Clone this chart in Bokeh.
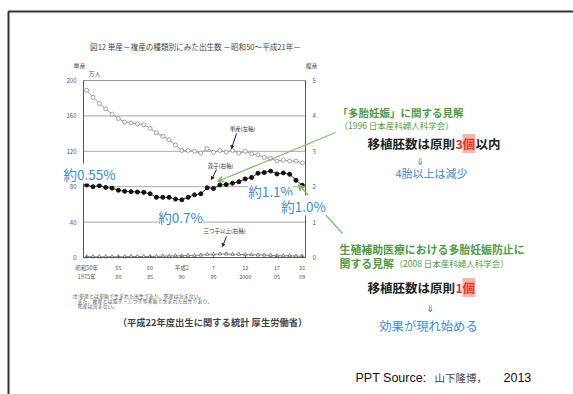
from bokeh.plotting import figure
from bokeh.models import (Range1d, LinearAxis, Label, Arrow, VeeHead, FixedTicker)
from bokeh.embed import file_html
from bokeh.resources import INLINE

# ---------------- data ----------------
years = list(range(1975, 2010))
singleton = [189, 181, 174, 168, 162, 157, 153, 152, 151, 150, 146, 141, 137, 133, 127,
             121, 121, 120, 118, 123, 119, 121, 119, 121, 118, 120, 117, 116, 113, 112,
             109, 110, 109, 109, 107]
twins = [2.05, 2.00, 2.03, 1.98, 1.96, 1.90, 1.87, 1.86, 1.85, 1.84, 1.80, 1.70, 1.70,
         1.70, 1.65, 1.63, 1.70, 1.77, 1.80, 1.97, 1.95, 2.05, 2.06, 2.10, 2.14, 2.22,
         2.26, 2.38, 2.40, 2.44, 2.36, 2.39, 2.35, 2.18, 2.04]
triplets = [0.02, 0.02, 0.02, 0.02, 0.02, 0.02, 0.02, 0.03, 0.03, 0.03, 0.03, 0.03,
            0.04, 0.04, 0.05, 0.05, 0.06, 0.06, 0.07, 0.09, 0.09, 0.10, 0.10, 0.09,
            0.09, 0.08, 0.08, 0.07, 0.07, 0.06, 0.05, 0.05, 0.05, 0.04, 0.04]
left_ticks = [0, 40, 80, 120, 160, 200]
right_ticks = [0, 1, 2, 3, 4, 5]
grid_ticks = [40, 80, 120, 160]
x_ticks = [1975, 1980, 1985, 1990, 1995, 2000, 2005, 2009]
x_tick_era = ["昭和50年", "55", "60", "平成2", "7", "12", "17", "21"]
x_tick_year = ["1975年", "80", "85", "90", "95", "2000", "05", "09"]

# ---------------- layout ----------------
W, H = 573, 394
FL, FT, FW, FH = 83, 80, 222, 177          # chart box on the page (px)
X0, X1 = 1974.5, 2009.5                    # year span of the chart box
Y0, Y1 = 0, 200                            # left-axis span
R1 = 5                                     # right-axis top
JP = "Noto Sans CJK JP"
BLUE = "#3d8bd0"
GREEN = "#4f9a42"
LGREEN = "#7cbd6b"
RED = "#e8312c"

# page coordinates: x in px to the right, y in px downward
p = figure(width=W, height=H, x_range=Range1d(0, W), y_range=Range1d(H, 0),
           x_axis_location=None, y_axis_location=None,
           output_backend="svg", toolbar_location=None, min_border=0)
for g in p.grid:
    g.visible = False
p.outline_line_color = None
p.background_fill_color = "white"
p.border_fill_color = "white"

kx = (X1 - X0) / FW
ky = (Y1 - Y0) / FH
p.extra_x_ranges = {"yrs": Range1d(X0 - FL * kx, X1 + (W - FL - FW) * kx)}
lv_bottom = Y0 - (H - FT - FH) * ky
lv_top = Y1 + FT * ky
p.extra_y_ranges = {"lv": Range1d(lv_bottom, lv_top),
                    "rv": Range1d(lv_bottom * R1 / Y1, lv_top * R1 / Y1)}

# chart box and grid
p.quad(left=[X0], right=[X1], bottom=[Y0], top=[Y1], fill_color=None,
       line_color="#9a9a9a", line_width=1, x_range_name="yrs", y_range_name="lv")
p.segment(x0=[X0] * len(grid_ticks), x1=[X1] * len(grid_ticks), y0=grid_ticks,
          y1=grid_ticks, line_color="#a8a8a8", line_width=1,
          x_range_name="yrs", y_range_name="lv")

# axes
yl = LinearAxis(y_range_name="lv", fixed_location=FL, bounds=(Y0, Y1),
                ticker=FixedTicker(ticks=left_ticks))
yr = LinearAxis(y_range_name="rv", fixed_location=FL + FW, bounds=(0, R1),
                ticker=FixedTicker(ticks=right_ticks))
p.add_layout(yl, "left")
p.add_layout(yr, "right")
for ax in (yl, yr):
    ax.axis_line_color = "#555"
    ax.major_tick_in = 0
    ax.major_tick_out = 0
    ax.minor_tick_line_color = None
    ax.major_label_text_font = JP
    ax.major_label_text_font_size = "6px"
    ax.major_label_text_color = "#555"
    ax.major_label_standoff = 7

xa = LinearAxis(x_range_name="yrs", y_range_name="lv", fixed_location=Y0,
                bounds=(X0, X1), ticker=FixedTicker(ticks=x_ticks))
p.add_layout(xa, "below")
xa.major_label_overrides = {t: f"{a}\n{b}" for t, a, b in zip(x_ticks, x_tick_era, x_tick_year)}
xa.axis_line_color = "#555"
xa.major_tick_in = 2
xa.major_tick_out = 0
xa.major_tick_line_color = "#555"
xa.minor_tick_line_color = None
xa.major_label_text_font = JP
xa.major_label_text_font_size = "5.5px"
xa.major_label_text_color = "#555"
xa.major_label_standoff = 6

# series
p.line(years, singleton, line_color="#9a9a9a", line_width=1,
       x_range_name="yrs", y_range_name="lv")
p.scatter(years, singleton, marker="circle", size=4, fill_color="white",
          line_color="#8a8a8a", line_width=0.8, x_range_name="yrs", y_range_name="lv")
p.line(years, twins, line_color="#333", line_width=1,
       x_range_name="yrs", y_range_name="rv")
p.scatter(years, twins, marker="circle", size=4, fill_color="#111", line_color="#111",
          x_range_name="yrs", y_range_name="rv")
p.line(years, triplets, line_color="#666", line_width=0.8,
       x_range_name="yrs", y_range_name="rv")
p.scatter(years, triplets, marker="triangle", size=3.5, fill_color="white",
          line_color="#555", line_width=0.7, x_range_name="yrs", y_range_name="rv")


def lab(px, py, text, size, color="#222", align="left", bold=False, bg=None,
        font=JP):
    l = Label(x=px, y=py, text=text, text_font=font,
              text_font_size=f"{size}px", text_color=color, text_align=align,
              text_baseline="middle", text_font_style="bold" if bold else "normal")
    if bg:
        l.background_fill_color = bg
    p.add_layout(l)
    return l


def arrow(x1, y1, x2, y2, color, width=1.0, head=6):
    p.add_layout(Arrow(end=VeeHead(size=head, line_color=color, fill_color=color,
                                   line_width=width),
                       x_start=x1, y_start=y1, x_end=x2, y_end=y2,
                       line_color=color, line_width=width))


# slide border
p.quad(left=[8], right=[W + 20], top=[11], bottom=[H + 20], fill_color=None,
       line_color="#333", line_width=2)

# chart title & units
lab(195, 46, "図12 単産－複産の種類別にみた出生数 －昭和50～平成21年－", 7.6, "#444",
    align="center")
lab(79, 65, "単産", 6, "#555", align="center")
lab(88, 73, "万人", 6, "#555")
lab(311, 65, "複産", 6, "#555", align="center")

# series tags
lab(242, 128, "単産(左軸)", 5.5, "#333", align="center")
arrow(236, 133, 231, 148, "#222", 1, 3)
lab(220, 165, "双子(右軸)", 5.5, "#333", align="center")
arrow(216, 169, 211, 179, "#222", 1, 3)
lab(224, 230, "三つ子以上(右軸)", 5.5, "#333", align="center")
arrow(226, 236, 222, 246, "#222", 1, 3)

# green pointers
arrow(335, 132, 217, 181, LGREEN, 1.2, 6)
arrow(342, 233, 298, 184, LGREEN, 1.2, 6)

# percentage call-outs
lab(89, 173, "約0.55%", 13.5, BLUE, align="center", bg="white")
lab(180, 216, "約0.7%", 13.5, BLUE, align="center", bg="white")
lab(270, 190, "約1.1%", 13.5, BLUE, align="center", bg="white")
lab(303, 205, "約1.0%", 13.5, BLUE, align="center", bg="white")

# right-hand text, upper
lab(337, 112, "「多胎妊娠」に関する見解", 10.5, GREEN, bold=True)
lab(339, 124, "（1996 日本産科婦人科学会）", 8.5, GREEN)
lab(367, 143, "移植胚数は原則", 12.5, "#222", bold=True)
lab(455, 143, "3", 12.5, RED, bold=True)
lab(462, 143, "個", 12.5, RED, bold=True, bg="#f6b3b0")
lab(475, 143, "以内", 12.5, "#222", bold=True)
lab(419, 160, "⇓", 10, BLUE, align="center")
lab(431, 172, "4胎以上は減少", 11, BLUE, align="center")

# right-hand text, lower
lab(339, 248, "生殖補助医療における多胎妊娠防止に", 10.9, GREEN, bold=True)
lab(339, 262, "関する見解", 10.9, GREEN, bold=True)
lab(394, 262, "（2008 日本産科婦人科学会）", 8.5, GREEN)
lab(367, 287, "移植胚数は原則", 12.5, "#222", bold=True)
lab(455, 287, "1", 12.5, RED, bold=True)
lab(462, 287, "個", 12.5, RED, bold=True, bg="#f6b3b0")
lab(429, 307, "⇓", 10, BLUE, align="center")
lab(428, 325, "効果が現れ始める", 12.3, BLUE, align="center")

# notes
lab(72, 294.5, "注:単産とは単胎で生まれた出生であり、死産は含まない。", 5, "#555")
lab(77, 299.5, "また、複産とは双子・三つ子等多胎で生まれた出生であり、", 5, "#555")
lab(77, 304.5, "死産は含まない。", 5, "#555")
lab(212, 321, "（平成22年度出生に関する統計 厚生労働省）", 9.3, "#444", align="center",
    bold=True)

# source
lab(355, 377, "PPT Source:", 12.5, "#111", font="Liberation Sans")
lab(434, 377, "山下隆博，", 10.5, "#444")
lab(503, 377, "2013", 12.5, "#111", font="Liberation Sans")

open("out.html", "w").write(file_html(p, INLINE))
